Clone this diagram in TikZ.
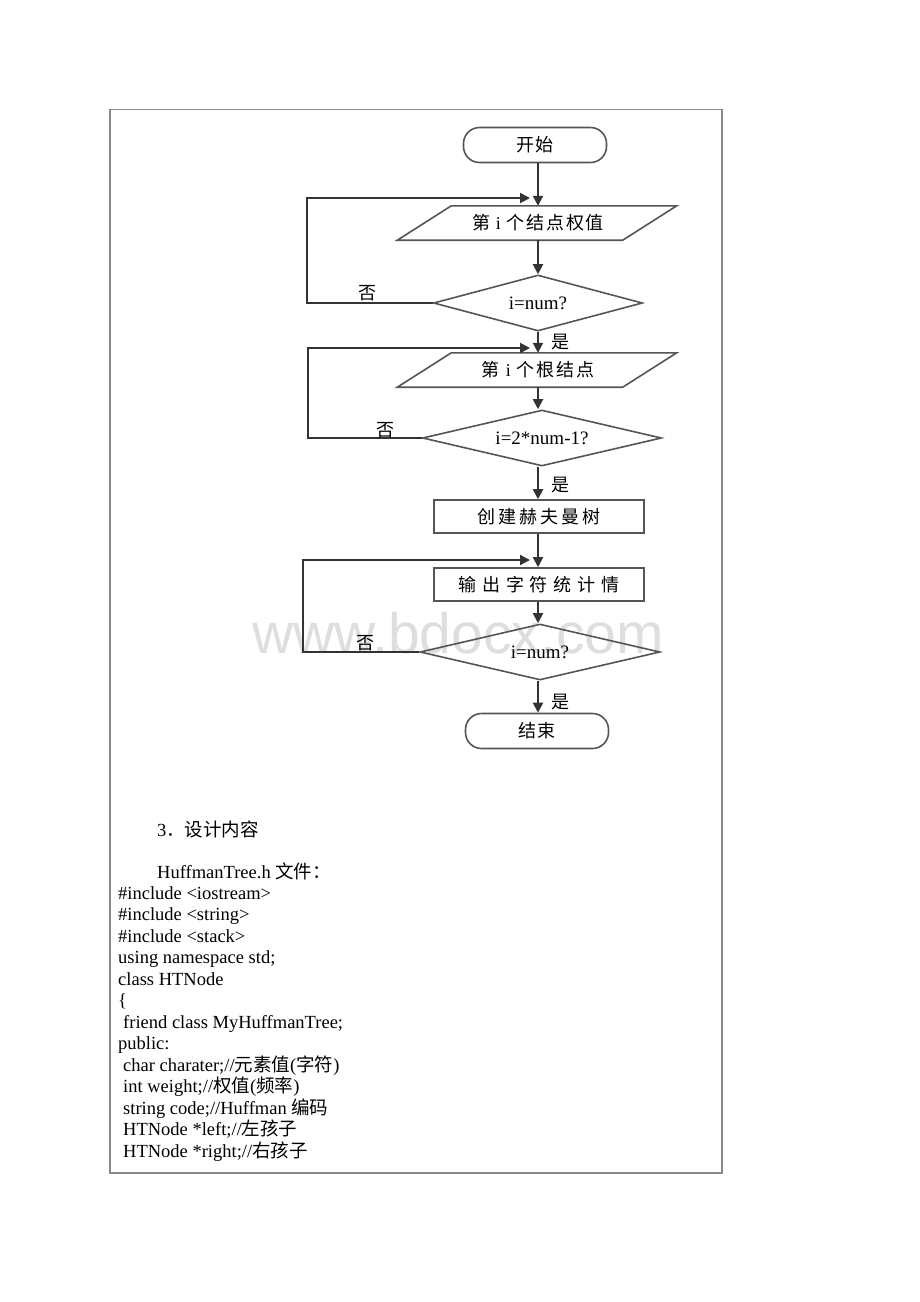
\documentclass[tikz,border=0pt]{standalone}
\usepackage{fontspec}
\setmainfont{Liberation Serif}
\newfontfamily\cjk{Noto Sans CJK SC}
\newfontfamily\wmfont{Liberation Sans}
\usetikzlibrary{shapes.geometric,arrows.meta}
\definecolor{framegray}{HTML}{8A8A8A}
\definecolor{linegray}{HTML}{333333}
\definecolor{shapegray}{HTML}{555555}
\definecolor{wmgray}{HTML}{DEDEDE}
\begin{document}
\begin{tikzpicture}[x=1pt,y=-1pt,
  line/.style={draw=linegray,line width=2pt},
  arr/.style={line,-{Triangle[length=10pt,width=10pt]}},
  shp/.style={draw=shapegray,line width=1.6pt},
  cjkfont/.style={font=\cjk\fontsize{18pt}{20pt}\selectfont},
  term/.style={shp,rectangle,rounded corners=16pt,minimum width=143pt,minimum height=35pt,inner sep=0pt,cjkfont},
  para/.style={rectangle,minimum width=225pt,minimum height=34pt,inner sep=0pt,cjkfont},
  procbox/.style={shp,rectangle,minimum width=210pt,minimum height=33pt,inner sep=0pt,cjkfont},
  dia/.style={shp,diamond,shape aspect=4,minimum width=#1,minimum height=56pt,inner sep=0pt,font=\fontsize{19pt}{21pt}\selectfont},
  lbl/.style={cjkfont,inner sep=0pt},
  code/.style={anchor=base west,inner sep=0pt,font=\fontsize{18.5pt}{21pt}\selectfont},
]
\useasboundingbox (0,0) rectangle (920,1302);
\fill[white] (0,0) rectangle (920,1302);

% watermark
\node[font=\wmfont\fontsize{57pt}{60pt}\selectfont,text=wmgray,inner sep=0pt] (wm) at (458,633) {www.bdocx.com};

% frame
\draw[framegray,line width=1.5pt] (110,109.5) rectangle (722,1173);

% flowchart nodes
\node[term] (start) at (535,145) {\addfontfeature{LetterSpace=8}开始};
\node[para] (p1) at (538,223) {\addfontfeature{LetterSpace=10}第 {\rmfamily i} 个结点权值};
\draw[shp] ([xshift=26pt]p1.north west) -- ([xshift=26pt]p1.north east) -- ([xshift=-28pt]p1.south east) -- ([xshift=-28pt]p1.south west) -- cycle;
\node[dia=209pt] (d1) at (538,303) {i=num?};
\node[para] (p2) at (538,370) {\addfontfeature{LetterSpace=10}第 {\rmfamily i} 个根结点};
\draw[shp] ([xshift=26pt]p2.north west) -- ([xshift=26pt]p2.north east) -- ([xshift=-28pt]p2.south east) -- ([xshift=-28pt]p2.south west) -- cycle;
\node[dia=239pt] (d2) at (542,438) {i=2*num-1?};
\node[procbox] (b1) at (539,516.5) {\addfontfeature{LetterSpace=16}创建赫夫曼树};
\node[procbox] (b2) at (539,584.5) {\addfontfeature{LetterSpace=32}输出字符统计情};
\node[dia=240pt] (d3) at (540,652) {i=num?};
\node[term] (stop) at (537,731) {\addfontfeature{LetterSpace=8}结束};

% merge points
\coordinate (m1) at (530,198);
\coordinate (l1) at (307,198);
\coordinate (m2) at (530,348);
\coordinate (l2) at (308,348);
\coordinate (m3) at (530,560);
\coordinate (l3) at (303,560);

% connectors
\draw[arr] (start.south -| p1.north) -- (p1.north);
\draw[arr] (p1.south) -- (d1.north -| p1.south);
\draw[arr] (d1.south -| p1.south) -- (p2.north);
\draw[arr] (p2.south) -- (d2.north -| p2.south);
\draw[arr] (d2.south -| p2.south) -- (b1.north -| p2.south);
\draw[arr] (b1.south -| p2.south) -- (b2.north -| p2.south);
\draw[arr] (b2.south -| p2.south) -- (d3.north -| p2.south);
\draw[arr] (d3.south -| p2.south) -- (stop.north -| p2.south);

\draw[arr] (d1.west) -| (l1) -- (m1);
\draw[arr] (d2.west) -| (l2) -- (m2);
\draw[arr] (d3.west) -| (l3) -- (m3);

% branch labels
\node[lbl] (n1) at (367,293) {否};
\node[lbl] (y1) at (560,342) {是};
\node[lbl] (n2) at (385,430) {否};
\node[lbl] (y2) at (560,485) {是};
\node[lbl] (n3) at (365,643) {否};
\node[lbl] (y3) at (560,702) {是};

% body text
\node[code] (h1) at (157,836) {3{\cjk ．设计内容}};
\node[code] (h2) at (157,878) {HuffmanTree.h {\cjk 文件：}};
\node[code] (c1) at (118,899) {\#include <iostream>};
\node[code] (c2) at (118,920.5) {\#include <string>};
\node[code] (c3) at (118,942) {\#include <stack>};
\node[code] (c4) at (118,963.5) {using namespace std;};
\node[code] (c5) at (118,985) {class HTNode};
\node[code] (c6) at (118,1006.5) {\{};
\node[code] (c7) at (123,1028) {friend class MyHuffmanTree;};
\node[code] (c8) at (118,1049.5) {public:};
\node[code] (c9) at (123,1071) {char charater;//{\cjk 元素值}({\cjk 字符})};
\node[code] (c10) at (123,1092.5) {int weight;//{\cjk 权值}({\cjk 频率})};
\node[code] (c11) at (123,1114) {string code;//Huffman {\cjk 编码}};
\node[code] (c12) at (123,1135.5) {HTNode *left;//{\cjk 左孩子}};
\node[code] (c13) at (123,1157) {HTNode *right;//{\cjk 右孩子}};
\end{tikzpicture}
\end{document}
